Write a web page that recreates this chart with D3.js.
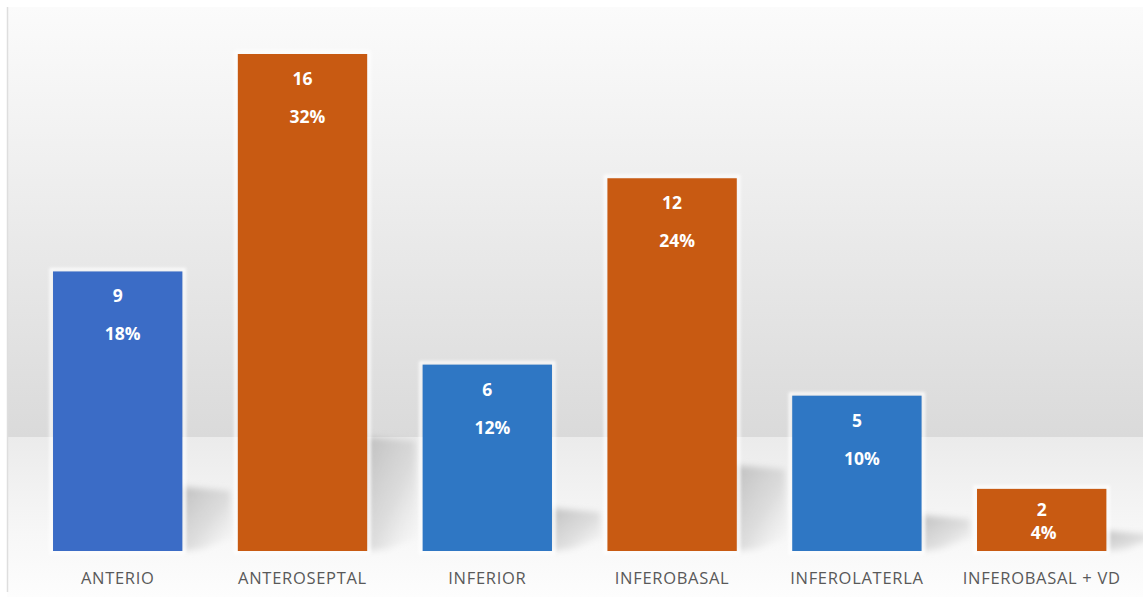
<!DOCTYPE html>
<html>
<head>
<meta charset="utf-8">
<script src="https://cdn.jsdelivr.net/npm/d3@7"></script>
<style>
  html, body { margin: 0; padding: 0; background: #ffffff; }
  svg { display: block; }
</style>
</head>
<body>
<svg id="chart" width="1143" height="597"></svg>
<script>
// Infarct location: number of patients per territory
const categories = ["ANTERIO", "ANTEROSEPTAL", "INFERIOR", "INFEROBASAL", "INFEROLATERLA", "INFEROBASAL + VD"];
const counts = [9, 16, 6, 12, 5, 2];
const barColors = ["#3b6cc6", "#c85a12", "#2f77c4", "#c85a12", "#2f77c4", "#c85a12"];

const W = 1143, H = 597;
const baseline = 551;
const total = d3.sum(counts);

const svg = d3.select("#chart");
const defs = svg.append("defs");

// Backdrop: white to gray wall, with a lighter floor strip
const wall = defs.append("linearGradient").attr("id", "wall")
  .attr("x1", 0).attr("y1", 0).attr("x2", 0).attr("y2", 1);
wall.append("stop").attr("offset", "0%").attr("stop-color", "#fbfbfb");
wall.append("stop").attr("offset", "35%").attr("stop-color", "#f0f0f0");
wall.append("stop").attr("offset", "100%").attr("stop-color", "#dadada");

const floor = defs.append("linearGradient").attr("id", "floor")
  .attr("x1", 0).attr("y1", 0).attr("x2", 0).attr("y2", 1);
floor.append("stop").attr("offset", "0%").attr("stop-color", "#ebebeb");
floor.append("stop").attr("offset", "60%").attr("stop-color", "#f7f7f7");
floor.append("stop").attr("offset", "100%").attr("stop-color", "#fdfdfd");

const shade = defs.append("linearGradient").attr("id", "shade")
  .attr("x1", 0).attr("y1", 0).attr("x2", 1).attr("y2", 1);
shade.append("stop").attr("offset", "0%").attr("stop-color", "#b8b8b8").attr("stop-opacity", 0.85);
shade.append("stop").attr("offset", "55%").attr("stop-color", "#cdcdcd").attr("stop-opacity", 0.6);
shade.append("stop").attr("offset", "100%").attr("stop-color", "#f4f4f4").attr("stop-opacity", 0.2);

defs.append("filter").attr("id", "soft").attr("x", "-30%").attr("y", "-30%").attr("width", "160%").attr("height", "160%")
  .append("feGaussianBlur").attr("stdDeviation", 3);
defs.append("filter").attr("id", "glow").attr("x", "-10%").attr("y", "-10%").attr("width", "120%").attr("height", "120%")
  .append("feGaussianBlur").attr("stdDeviation", 1.5);

svg.append("rect").attr("x", 7).attr("y", 7).attr("width", W - 7).attr("height", 430).attr("fill", "url(#wall)");
svg.append("rect").attr("x", 7).attr("y", 437).attr("width", W - 7).attr("height", H - 437).attr("fill", "url(#floor)");
svg.append("line").attr("x1", 7.5).attr("x2", 7.5).attr("y1", 7).attr("y2", H - 5)
  .attr("stroke", "#dedede").attr("stroke-width", 1.5);

// Scales
const x = d3.scaleBand()
  .domain(categories)
  .range([25.3, 1134.1])
  .paddingInner(0.3)
  .paddingOuter(0.15);

const y = d3.scaleLinear()
  .domain([0, 16])
  .range([baseline, 54]);

const data = categories.map((c, i) => ({ cat: c, v: counts[i], color: barColors[i] }));

// Floor shadows cast to the right of each bar
svg.append("g").selectAll("path")
  .data(data)
  .join("path")
  .attr("d", d => {
    const r = x(d.cat) + x.bandwidth();
    const h = baseline - y(d.v);
    const top = baseline - Math.max(h * 0.23, 20);
    return `M${r},${top} L${r + 48},${top + 4} L${r + 50},${baseline - 14} L${r + 20},${baseline - 2} L${r},${baseline} Z`;
  })
  .attr("fill", "url(#shade)")
  .attr("filter", "url(#soft)");

// White halo round each bar
svg.append("g").selectAll("rect")
  .data(data)
  .join("rect")
  .attr("x", d => x(d.cat) - 2)
  .attr("y", d => y(d.v) - 2)
  .attr("width", x.bandwidth() + 4)
  .attr("height", d => baseline - y(d.v) + 4)
  .attr("fill", "none")
  .attr("stroke", "#ffffff")
  .attr("stroke-opacity", 0.85)
  .attr("stroke-width", 3)
  .attr("filter", "url(#glow)");

// Bars
svg.append("g").selectAll("rect")
  .data(data)
  .join("rect")
  .attr("x", d => x(d.cat))
  .attr("y", d => y(d.v))
  .attr("width", x.bandwidth())
  .attr("height", d => baseline - y(d.v))
  .attr("fill", d => d.color);

// Value labels: count and share of total
const font = "'Open Sans', 'DejaVu Sans', sans-serif";
const labels = svg.append("g")
  .attr("font-family", font)
  .attr("font-weight", "bold")
  .attr("font-size", 17.5)
  .attr("fill", "#ffffff")
  .attr("text-anchor", "middle");

labels.selectAll("text.count")
  .data(data)
  .join("text")
  .attr("class", "count")
  .attr("x", d => x(d.cat) + x.bandwidth() / 2)
  .attr("y", d => d.v < 3 ? y(d.v) + 27 : y(d.v) + 31)
  .text(d => d.v);

labels.selectAll("text.pct")
  .data(data)
  .join("text")
  .attr("class", "pct")
  .attr("x", d => x(d.cat) + x.bandwidth() / 2 + (d.v < 3 ? 2 : 5))
  .attr("y", d => d.v < 3 ? y(d.v) + 50 : y(d.v) + 69)
  .text(d => d3.format(".0%")(d.v / total));

// Category axis
const xAxis = svg.append("g")
  .attr("transform", `translate(0,${baseline})`)
  .call(d3.axisBottom(x).tickSize(0).tickPadding(21));
xAxis.select(".domain").remove();
xAxis.selectAll("text")
  .attr("font-family", font)
  .attr("font-size", 16.5)
  .attr("letter-spacing", 0.7)
  .attr("fill", "#595959");
</script>
</body>
</html>
